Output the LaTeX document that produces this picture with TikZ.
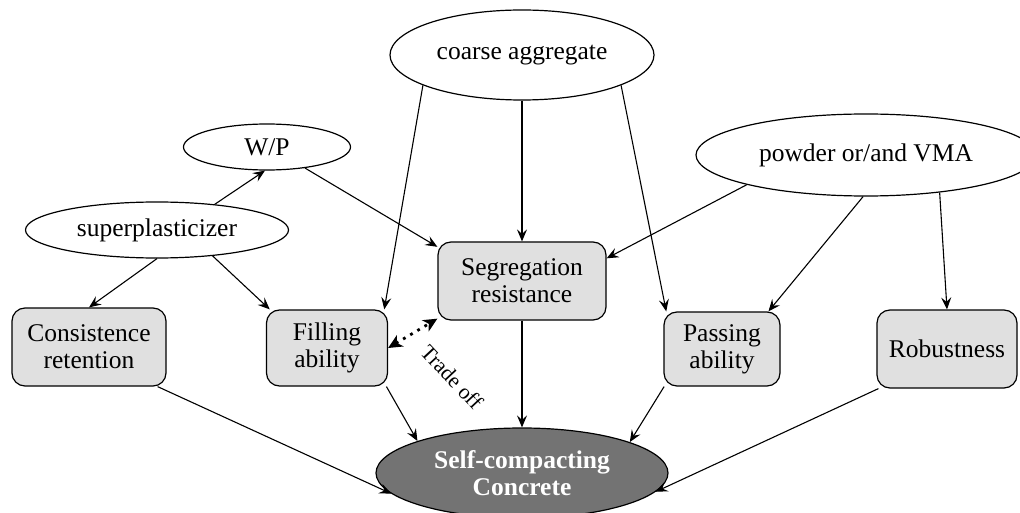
\documentclass[tikz,border=0pt]{standalone}
\usepackage{fontspec}
\setmainfont{Liberation Serif}
\usetikzlibrary{arrows.meta,shapes.geometric,calc}
\definecolor{boxgray}{HTML}{E0E0E0}
\definecolor{sccgray}{HTML}{737373}
\begin{document}
\begin{tikzpicture}[x=1pt,y=-1pt,
  every node/.style={font=\fontsize{25.5}{27}\selectfont},
  ell/.style={ellipse,draw,line width=1.2pt,inner sep=0pt,fill=white},
  box/.style={rectangle,rounded corners=13pt,draw,line width=1.2pt,fill=boxgray,align=center,inner sep=0pt},
  arr/.style={-{Stealth[length=12pt,width=10pt,inset=4.5pt]},line width=1.1pt},
  trade/.style={{Stealth[length=14pt,width=13pt,inset=4pt]}-{Stealth[length=14pt,width=13pt,inset=4pt]},line width=2.8pt,dash pattern=on 2.8pt off 5.5pt}
]
\useasboundingbox (0,0) rectangle (1020,513);
\fill[white] (0,0) rectangle (1020,513);

\node[ell,minimum width=264pt,minimum height=90pt] (coarse) at (522,55) {coarse aggregate};
\node[ell,minimum width=167pt,minimum height=46pt] (wp) at (267,147) {W/P};
\node[ell,minimum width=263pt,minimum height=56pt] (sp) at (157,230) {superplasticizer};
\node[ell,minimum width=340pt,minimum height=82pt] (powder) at (866,155) {powder or/and VMA};

\node[box,minimum width=168pt,minimum height=78pt] (seg) at (522,281) {Segregation\\resistance};
\node[box,minimum width=154pt,minimum height=78pt] (cons) at (89,347) {Consistence\\retention};
\node[box,minimum width=121pt,minimum height=76pt] (fill) at (327,348) {Filling\\ability};
\node[box,minimum width=116pt,minimum height=74pt] (pass) at (722,349) {Passing\\ability};
\node[box,minimum width=140pt,minimum height=78pt] (rob) at (947,349) {Robustness};

\node[ellipse,draw,line width=1.2pt,fill=sccgray,text=white,inner sep=0pt,align=center,
      minimum width=292pt,minimum height=90pt,font=\fontsize{25.5}{27}\selectfont\bfseries] (scc) at (522,473) {Self-compacting\\Concrete};

% edges
\draw[arr] (coarse.south) -- (seg.north);
\draw[arr] (coarse.197) -- (fill.34);
\draw[arr] (coarse.343) -- (pass.146);
\draw[arr] (wp.331) -- (seg.158);
\draw[arr] (sp.24) -- (wp.265);
\draw[arr] (sp.south) -- (cons.north);
\draw[arr] (sp.335) -- (fill.146);
\draw[arr] (powder.194) -- (seg.15);
\draw[arr] (powder.266) -- (pass.39);
\draw[arr] (powder.333) -- (rob.north);

\draw[arr] (seg.south) -- (scc.north);
\draw[arr] (cons.330) -- (scc.189);
\draw[arr] (fill.327) -- (scc.163);
\draw[arr] (pass.213) -- (scc.16);
\draw[arr] (rob.210) -- (scc.352);

\draw[trade] (fill.east) -- (seg.204);
\node[rotate=-47,font=\fontsize{21.5}{23}\selectfont] (tl) at (452,377) {Trade off};
\end{tikzpicture}
\end{document}
